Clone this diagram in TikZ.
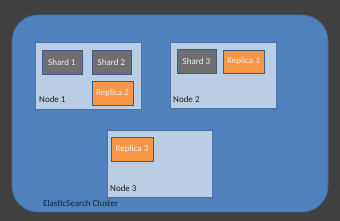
\documentclass[tikz,border=0pt]{standalone}
\usepackage{fontspec}
\setmainfont{Carlito}
\usepackage{xcolor}
\usetikzlibrary{positioning}
\definecolor{backdrop}{HTML}{404040}
\definecolor{clusterblue}{HTML}{4F81BD}
\definecolor{clusteredge}{HTML}{3F6CA3}
\definecolor{hostfill}{HTML}{B9CDE5}
\definecolor{hostedge}{HTML}{4A72A6}
\definecolor{shardgray}{HTML}{6F6F6F}
\definecolor{replicaorange}{HTML}{F79646}
\definecolor{boxedge}{HTML}{385D8A}
\definecolor{inktext}{HTML}{1A1A1A}
\definecolor{navytext}{HTML}{14243C}
\tikzset{
  cluster/.style={draw=clusteredge,fill=clusterblue,line width=.8pt,rounded corners=26pt,
                  minimum width=316pt,minimum height=197pt,inner sep=0pt},
  host/.style={draw=hostedge,fill=hostfill,line width=.7pt,minimum width=106pt,
               minimum height=67pt,inner sep=0pt},
  shard/.style={draw=boxedge,fill=shardgray,line width=.7pt,minimum width=40pt,
                minimum height=24pt,inner sep=0pt,text=white!95!black,font=\fontsize{9}{11}\selectfont},
  replica/.style={draw=boxedge,fill=replicaorange,line width=.7pt,minimum width=41pt,
                  minimum height=24pt,inner sep=0pt,text=white!95!black,font=\fontsize{9}{11}\selectfont},
  hostlabel/.style={anchor=base west,inner sep=0pt,text=inktext,font=\fontsize{9}{11}\selectfont},
}
\begin{document}
\begin{tikzpicture}[x=1pt,y=-1pt]
  \fill[backdrop] (0,0) rectangle (340,221);
  \useasboundingbox (0,0) rectangle (340,221);

  \node[cluster] (cluster) at (170,113.5) {};
  \node[hostlabel,text=navytext] (clusterlabel) at (43,207) {ElasticSearch Cluster};

  % node 1
  \node[host] (node1) at (88,75.5) {};
  \node[shard] (shard1) at (62,62) {Shard 1};
  \node[shard,minimum width=39pt] (shard2) at (111.5,62.5) {Shard 2};
  \node[replica] (replica2) at (112.5,93) {Replica 2};
  \node[hostlabel] (node1label) at (39,103) {Node 1};

  % node 2
  \node[host,minimum height=66pt] (node2) at (223,75) {};
  \node[shard,minimum width=39pt] (shard3) at (196.5,61) {Shard 3};
  \node[replica,minimum height=23pt] (replica1) at (243.5,61.5) {Replica 1};
  \node[hostlabel] (node2label) at (173,103) {Node 2};

  % node 3
  \node[host,minimum width=105pt] (node3) at (159.5,163.5) {};
  \node[replica,minimum width=42pt] (replica3) at (132,149) {Replica 3};
  \node[hostlabel] (node3label) at (110,192) {Node 3};
\end{tikzpicture}
\end{document}
